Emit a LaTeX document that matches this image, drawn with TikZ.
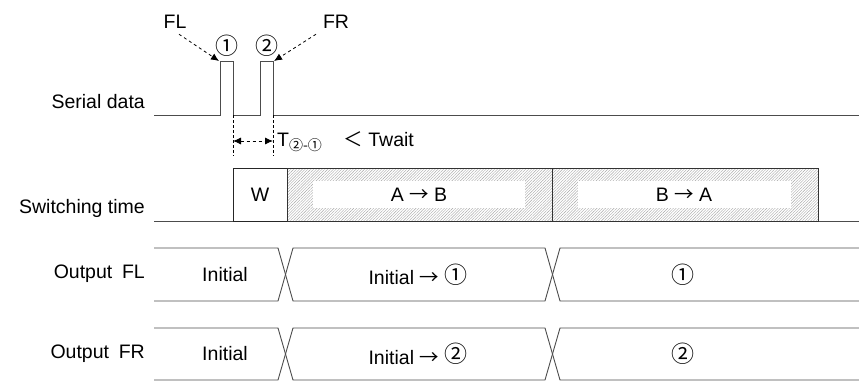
\documentclass[tikz,border=0pt]{standalone}
\usepackage{fontspec}
\setmainfont{Liberation Sans}
\newfontfamily\cjkfont{Noto Sans CJK JP}
\newcommand{\cone}{\raisebox{1.5pt}{\cjkfont\fontsize{23}{24}\selectfont ①}}
\newcommand{\ctwo}{\raisebox{1.5pt}{\cjkfont\fontsize{23}{24}\selectfont ②}}
\newcommand{\rarr}{{\cjkfont →}}
\usepackage{tikz}
\usetikzlibrary{calc,arrows.meta,patterns.meta}

\tikzset{
  sig/.style={line width=0.9pt,black!70},
  lbl/.style={anchor=east,inner sep=0pt},
  hatch/.style={draw=black!80,line width=0.8pt,
    pattern={Lines[angle=45,distance=2pt,line width=0.4pt]},pattern color=black!35},
  ptr/.style={line width=0.8pt,dashed,-{Latex[length=8pt,width=7pt]}}
}

\begin{document}
\begin{tikzpicture}[x=1pt,y=-1pt,font=\fontsize{19.5}{22}\selectfont]
  \useasboundingbox (0,0) rectangle (859,381);
  % row labels
  \node[lbl] (lser) at (145,102) {Serial data};
  \node[lbl] (lsw) at (145,208) {Switching time};
  \node[lbl] (lfl) at (145,274) {Output\hspace{0.5em}FL};
  \node[lbl] (lfr) at (145,354) {Output\hspace{0.5em}FR};
  % serial data
  \draw[sig] (154,115)--(220,115)--(220,61)--(233,61)--(233,115)
    --(260,115)--(260,61)--(273,61)--(273,115)--(859,115);
  \coordinate (p1) at (219,61);
  \coordinate (p2) at (274,61);
  \node (c1) at (227,46) {\cone};
  \node (c2) at (267,46) {\ctwo};
  \node (fl) at (175,22) {FL};
  \node (fr) at (336,22) {FR};
  \draw[ptr] ($(fl.south)+(4,2)$) -- (p1);
  \draw[ptr] ($(fr.south)+(-20,2)$) -- (p2);
  % interval
  \draw[line width=0.8pt,densely dashed] (233,115)--(233,156) coordinate (d1);
  \draw[line width=0.8pt,densely dashed] (273,115)--(273,156) coordinate (d2);
  \draw[line width=0.8pt,dashed,{Latex[length=8pt,width=7pt]}-{Latex[length=8pt,width=7pt]}]
    ($(d1)+(0,-15)$) -- ($(d2)+(0,-15)$);
  \node[anchor=west,inner sep=0pt] (tw) at (277,142)
    {T\raisebox{-4pt}{\cjkfont\fontsize{14}{15}\selectfont ②-①}\hspace{1.1em}{\cjkfont ＜} Twait};
  % switching time
  \draw[sig] (154,221)--(233,221);
  \draw[sig] (818,221)--(859,221);
  \draw[line width=0.8pt,black!85] (233,168) rectangle (287,221);
  \node (w) at (260,194.5) {W};
  \draw[hatch] (287,168) rectangle (552,221);
  \draw[hatch] (552,168) rectangle (818,221);
  \fill[white] (313,181) rectangle (525,208);
  \fill[white] (578,181) rectangle (791,208);
  \node (ab) at (419,194.5) {A \rarr\ B};
  \node (ba) at (684,194.5) {B \rarr\ A};
  % output FL
  \draw[sig] (154,248)--(278,248)--(293,301)--(545,301)--(560,248)--(859,248);
  \draw[sig] (154,301)--(278,301)--(293,248)--(545,248)--(560,301)--(859,301);
  \node (fl0) at (225,274.5) {Initial};
  \node (fl1) at (418,274.5) {Initial \rarr\ \cone};
  \node (fl2) at (683,274.5) {\cone};
  % output FR
  \draw[sig] (154,328)--(278,328)--(293,380)--(545,380)--(560,328)--(859,328);
  \draw[sig] (154,380)--(278,380)--(293,328)--(545,328)--(560,380)--(859,380);
  \node (fr0) at (225,354) {Initial};
  \node (fr1) at (418,354) {Initial \rarr\ \ctwo};
  \node (fr2) at (683,354) {\ctwo};
\end{tikzpicture}
\end{document}
